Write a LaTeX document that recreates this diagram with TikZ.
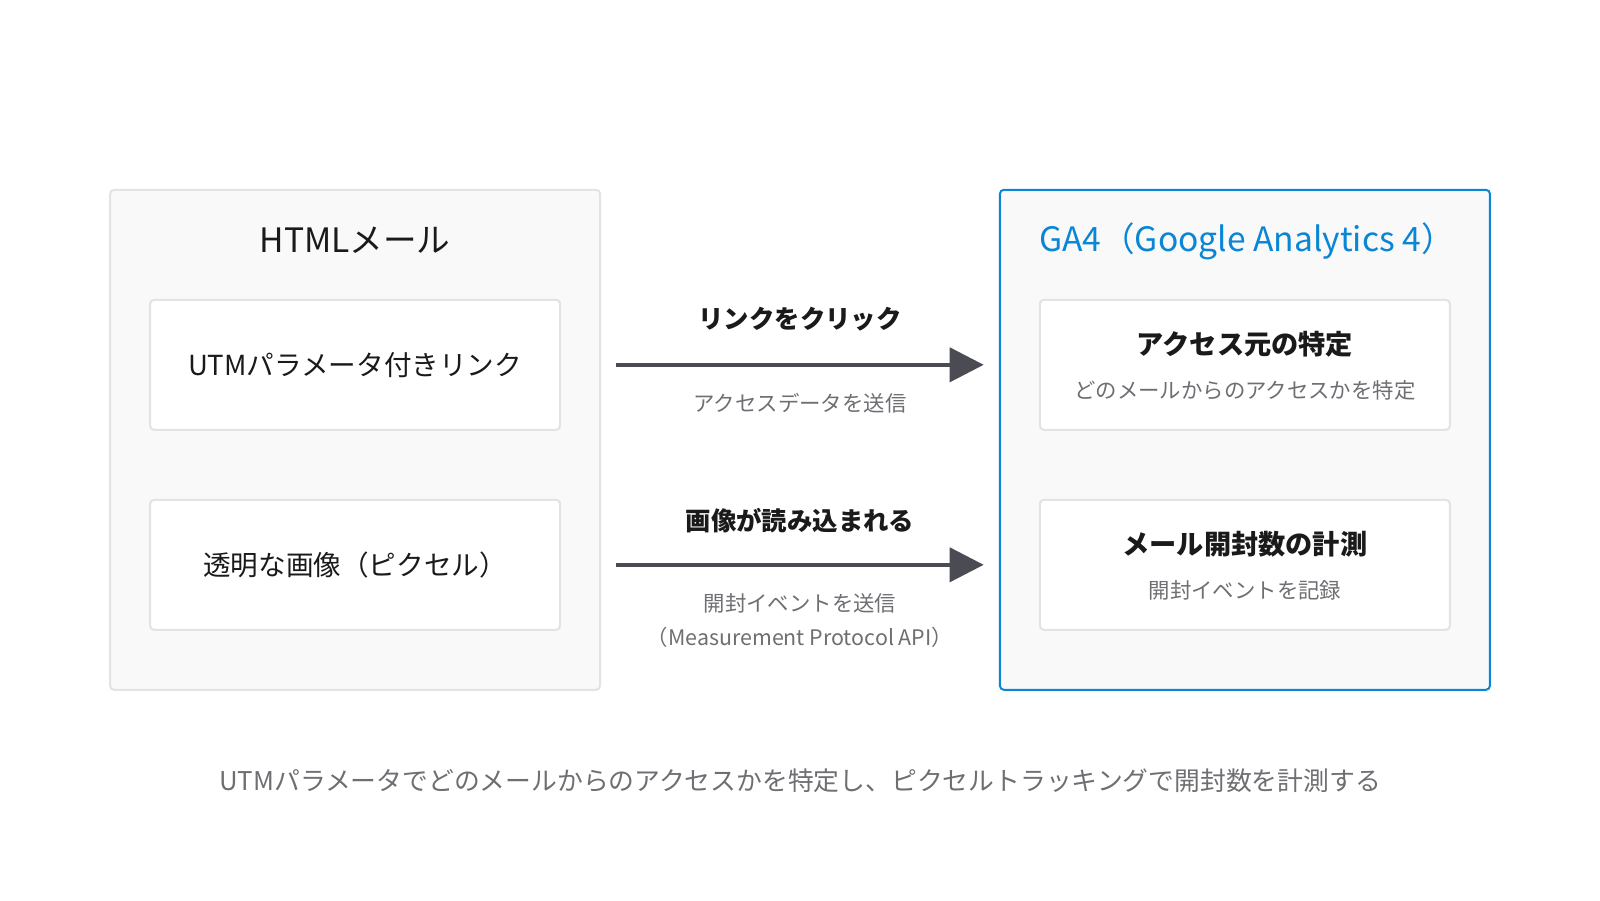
\documentclass[tikz,border=0pt]{standalone}
\usepackage{fontspec}
\setmainfont{Noto Sans CJK JP}
\usetikzlibrary{arrows.meta}
\definecolor{ink}{HTML}{1A1A1A}
\definecolor{soft}{HTML}{6E6E73}
\definecolor{rim}{HTML}{E2E2E7}
\definecolor{pane}{HTML}{F9F9FA}
\definecolor{gablue}{HTML}{0A86D4}
\definecolor{shaft}{HTML}{4B4B53}
\begin{document}
\begin{tikzpicture}[x=0.5102pt,y=-0.5102pt,
  outer/.style={draw=rim,fill=pane,line width=1pt,rounded corners=2pt,minimum width=245pt,minimum height=250pt,inner sep=0pt},
  inner/.style={draw=rim,fill=white,line width=1pt,rounded corners=2pt,minimum width=205pt,minimum height=65pt,inner sep=0pt},
  head/.style={text=ink,font=\fontsize{16.8}{20}\selectfont},
  main/.style={text=ink,font=\fontsize{13.8}{16}\selectfont},
  strong/.style={text=ink,font=\bfseries\fontsize{13.6}{16}\selectfont},
  verb/.style={text=ink,font=\bfseries\fontsize{12.7}{15}\selectfont},
  note/.style={text=soft,font=\fontsize{10.7}{13}\selectfont,align=center},
  flow/.style={draw=shaft,line width=2pt,-{Triangle[length=17pt,width=17pt]},shorten <=7.6pt,shorten >=7.6pt}]
\useasboundingbox (0,0) rectangle (1568,882);

\node[outer] (mail) at (348,431) {};
\node[outer,draw=gablue] (ga) at (1220,431) {};
\node[head] (mailhead) at (348,235) {HTMLメール};
\node[head,text=gablue] (gahead) at (1222,236) {GA4（Google Analytics 4）};

\node[inner] (utm) at (348,357.5) {};
\node[main] at (utm) {UTMパラメータ付きリンク};
\node[inner] (pixel) at (348,553.5) {};
\node[main] at (pixel) {透明な画像（ピクセル）};

\node[inner] (source) at (1220,357.5) {};
\node[strong] at (1220,337) {アクセス元の特定};
\node[note] at (1220,383) {どのメールからのアクセスかを特定};
\node[inner] (opens) at (1220,553.5) {};
\node[strong] at (1220,533) {メール開封数の計測};
\node[note] at (1220,579) {開封イベントを記録};

\draw[flow] (utm.center -| mail.east) -- (source.center -| ga.west);
\draw[flow] (pixel.center -| mail.east) -- (opens.center -| ga.west);
\node[verb] at (784,313) {リンクをクリック};
\node[note] at (784,395) {アクセスデータを送信};
\node[verb] at (784,510) {画像が読み込まれる};
\node[note,font=\fontsize{10.7}{16.8}\selectfont] at (784,608) {開封イベントを送信\\（Measurement Protocol API）};

\node[note,font=\fontsize{12.9}{15}\selectfont] (caption) at (784,765) {UTMパラメータでどのメールからのアクセスかを特定し、ピクセルトラッキングで開封数を計測する};
\end{tikzpicture}
\end{document}
